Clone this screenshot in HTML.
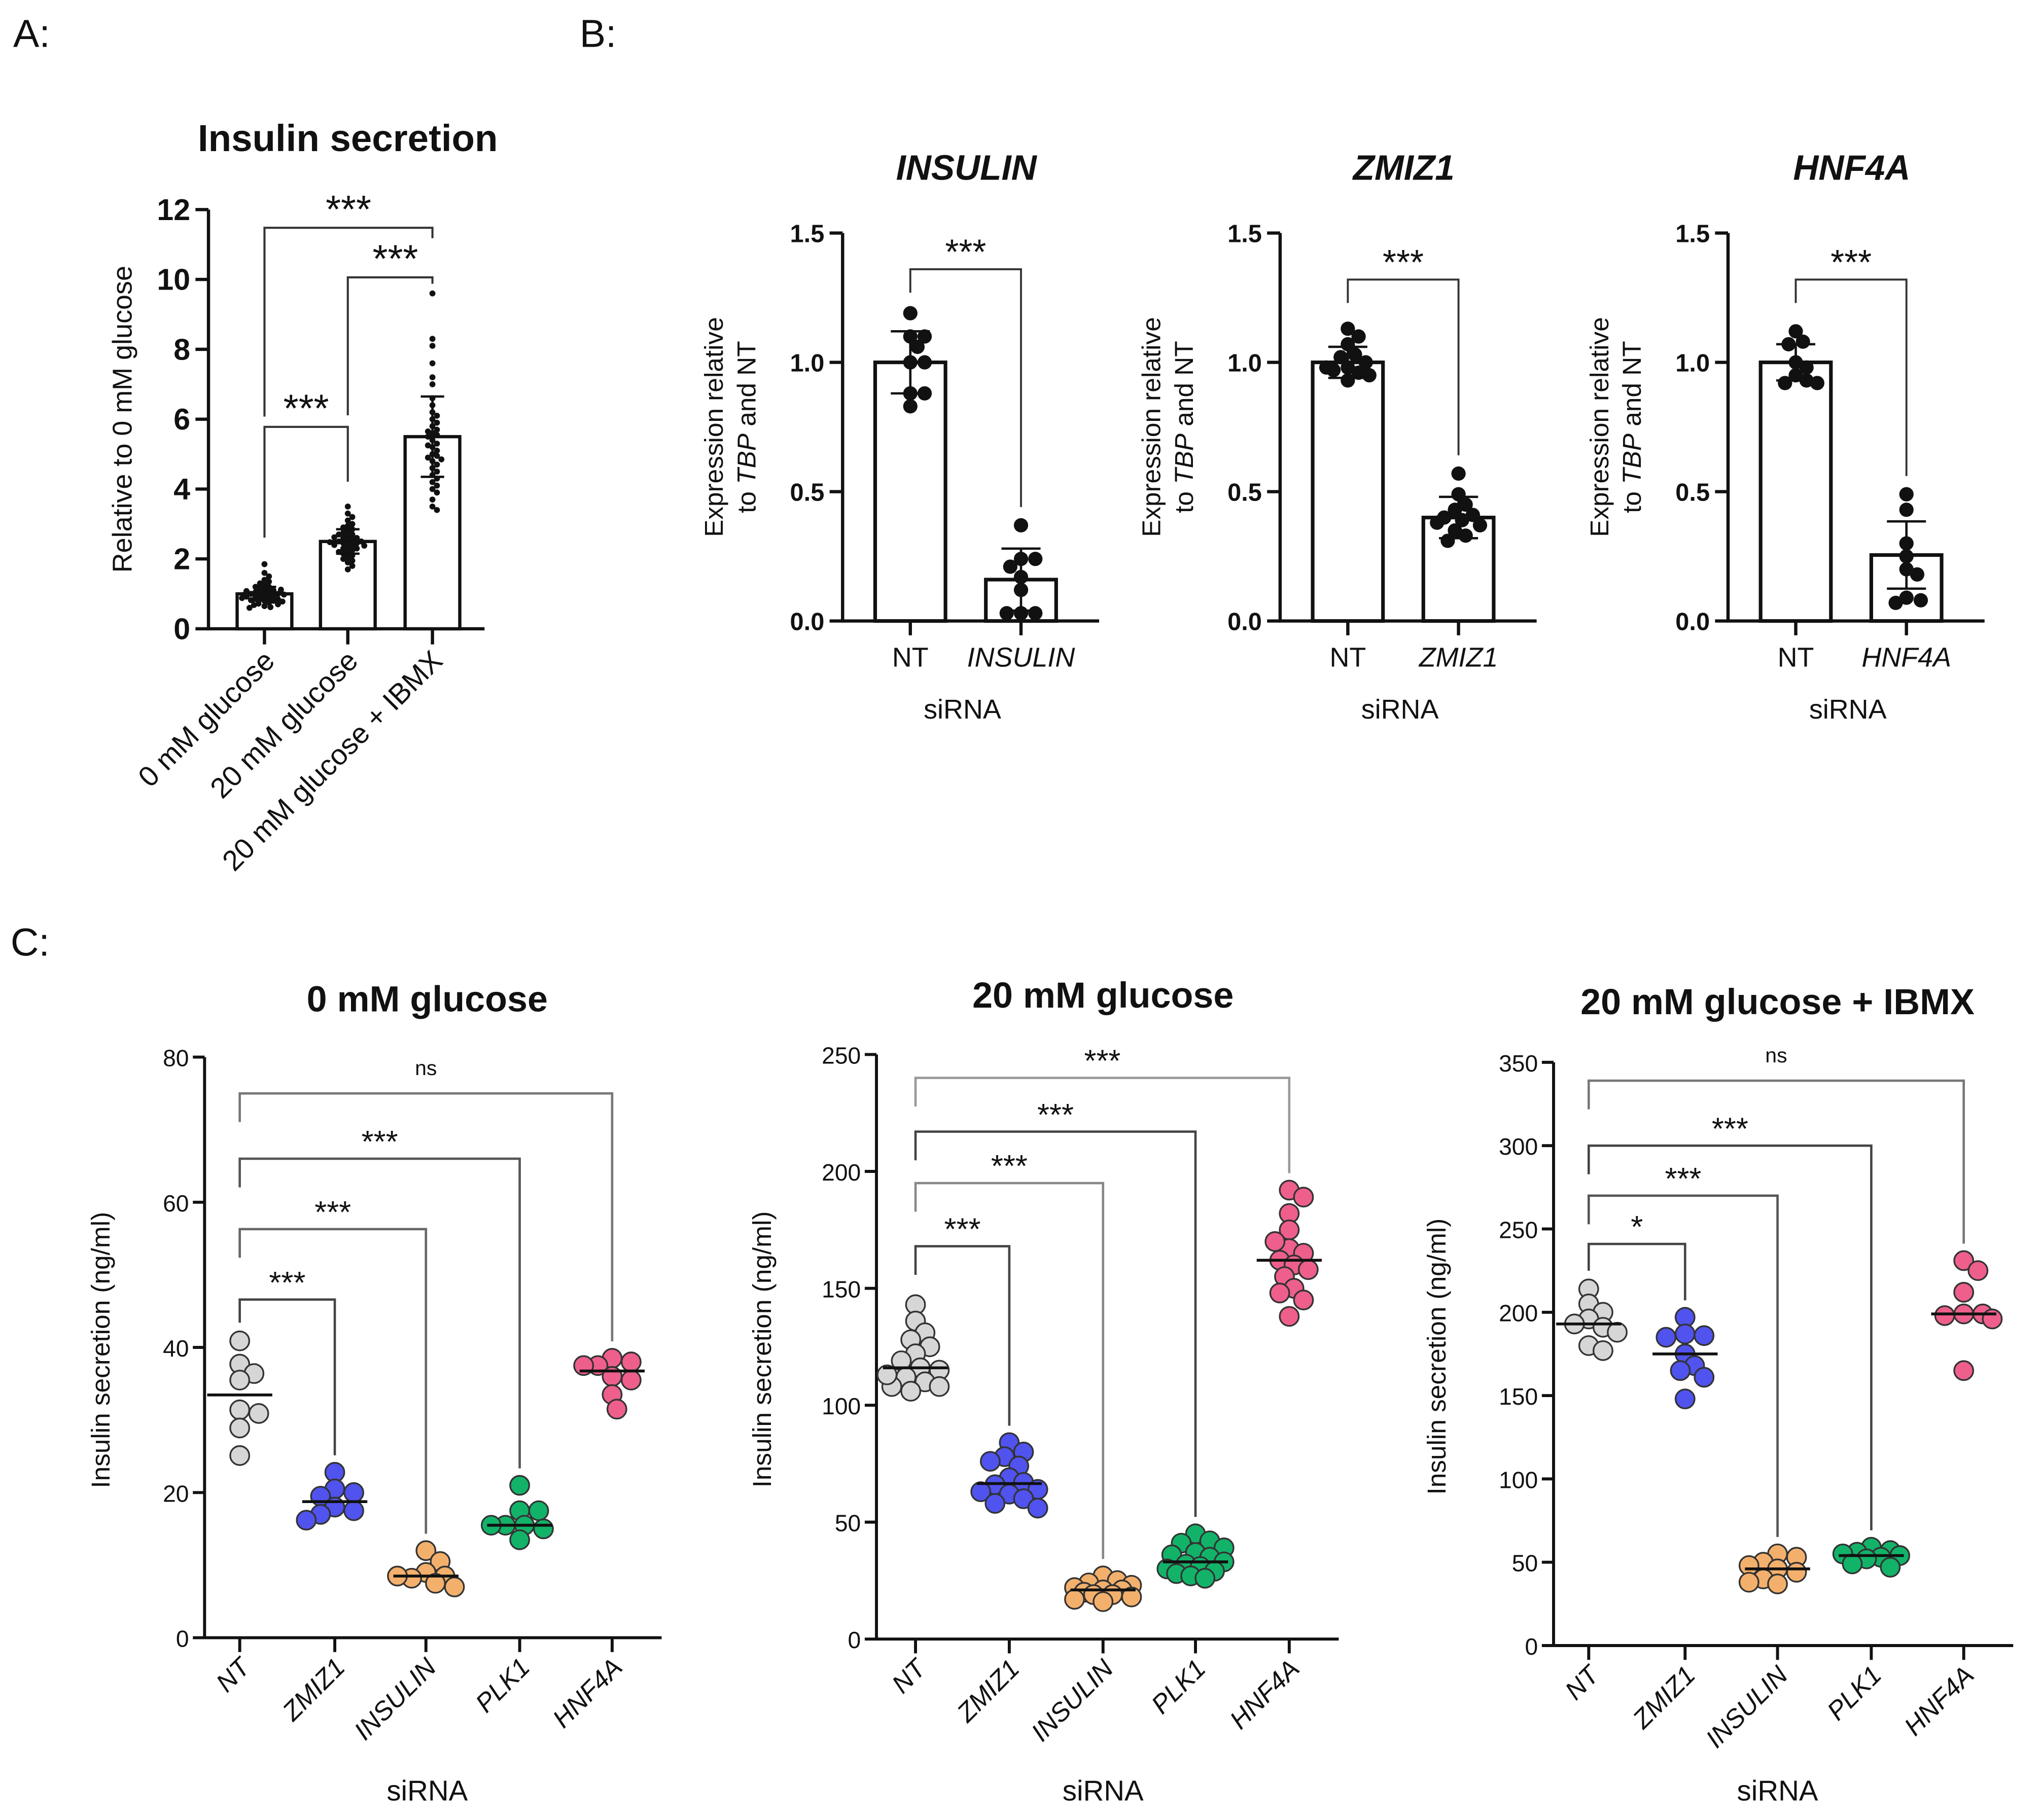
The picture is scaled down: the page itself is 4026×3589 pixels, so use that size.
<!DOCTYPE html>
<html><head><meta charset="utf-8">
<style>
html,body{margin:0;padding:0;background:#fff}
svg{display:block}
text{font-family:"Liberation Sans",Arial,sans-serif;fill:#111}
</style></head>
<body>
<svg id="fig" xmlns="http://www.w3.org/2000/svg" width="4026" height="3589" viewBox="0 0 1568 1398">
<rect width="1568" height="1398" fill="#fff"/>
<text x="10" y="36" font-size="30">A:</text>
<text x="445" y="36" font-size="30">B:</text>
<text x="8" y="734" font-size="30">C:</text>
<g id="root"></g>
</svg>
<script>
// ---------- Panel A data ----------
const aCategories = ["0 mM glucose","20 mM glucose","20 mM glucose + IBMX"];
const aMeans = [1.0, 2.5, 5.5];
const aSD = [0.2, 0.35, 1.15];
const aTicks = [0,2,4,6,8,10,12];
const aPts0 = [1.85,1.6,1.5,1.4,1.35,1.3,1.25,1.2,1.2,1.15,1.1,1.1,1.05,1.05,1.0,1.0,1.0,0.98,0.95,0.95,0.92,0.9,0.9,0.88,0.85,0.85,0.82,0.8,0.8,0.78,0.75,0.72,0.7,0.68,0.65,0.62,0.6,1.12,1.08,0.97];
const aPts1 = [3.5,3.3,3.2,3.1,3.0,2.95,2.9,2.85,2.8,2.75,2.7,2.7,2.65,2.6,2.6,2.55,2.5,2.5,2.5,2.45,2.45,2.4,2.4,2.35,2.3,2.3,2.25,2.2,2.2,2.15,2.1,2.05,2.0,1.95,1.9,1.8,1.7,2.62,2.48,2.38];
const aPts2 = [9.6,8.3,8.1,7.6,7.2,7.0,6.6,6.4,6.2,6.1,6.0,5.9,5.8,5.7,5.6,5.55,5.5,5.4,5.3,5.2,5.1,5.0,4.95,4.9,4.8,4.7,4.6,4.5,4.4,4.3,4.2,4.1,4.0,3.9,3.7,3.5,3.4,5.25,5.65,4.85];
const aBracketLevels = [5.78, 10.06, 11.48];

// ---------- Panel B data ----------
const bTitles = ["INSULIN","ZMIZ1","HNF4A"];
const bTicks = [0.0,0.5,1.0,1.5];
const bMeans = [[1.0,0.16],[1.0,0.4],[1.0,0.255]];
const bSD = [[0.12,0.12],[0.06,0.08],[0.07,0.13]];
const bPtsNT = [[1.19,1.1,1.1,1.06,1.0,1.0,0.88,0.88,0.83],[1.13,1.1,1.07,1.03,1.02,1.0,0.98,0.97,0.96,0.95,0.93,0.98],[1.12,1.08,1.07,1.0,0.98,0.95,0.93,0.92,0.92]];
const bPtsKD = [[0.37,0.24,0.24,0.21,0.17,0.12,0.03,0.03,0.03],[0.57,0.49,0.45,0.43,0.41,0.4,0.39,0.37,0.35,0.33,0.31,0.38],[0.49,0.43,0.3,0.25,0.2,0.18,0.09,0.08,0.07]];
const bBracketLevels = [1.36, 1.32, 1.32];

// ---------- Panel C data ----------
const cCategories = ["NT","ZMIZ1","INSULIN","PLK1","HNF4A"];
const cTitles = ["0 mM glucose","20 mM glucose","20 mM glucose + IBMX"];
const cTicks = [[0,20,40,60,80],[0,50,100,150,200,250],[0,50,100,150,200,250,300,350]];
const c1Pts = [[40.9,37.7,36.4,35.5,31.4,30.9,28.9,25.1],[22.8,20.5,20,19.5,18,17.5,17,16.2],[12,10.5,9,8.5,8.2,8.5,7.5,7],[21,17.5,17.5,15.5,15.5,15,15.5,13.5],[38.5,38,37.5,37.5,36,35.5,33.5,31.5]];
const c2Pts = [[143,136,131,128,125,122,119,116,115,112,110,108,106,108,113],[84,80,78,76,74,69,67,66,64,63,62,60,58,56],[27,25,24,23,22,21,21,20,19,19,18,17,16],[45,42,41,39,37,36,35,33,32,31,30,29,28,27,26],[192,189,182,175,167,165,162,160,158,155,150,148,145,138,170]];
const c3Pts = [[214,205,200,196,193,191,188,180,177],[197,187,186,185,175,168,165,161,148],[55,53,50,48,46,44,40,38,37],[59,57,56,55,54,53,52,49,47],[231,225,212,199,199,198,196,165]];
const c1Brackets = [46.6,56.3,66.0,75.0];
const c2Brackets = [168,195,217,240];
const c3Brackets = [241,270,300,339];
const c1Sig = ["***","***","***","ns"];
const c2Sig = ["***","***","***","***"];
const c3Sig = ["*","***","***","ns"];

const NS="http://www.w3.org/2000/svg";
const root=document.getElementById('root');
function mk(tag,attrs,parent){const e=document.createElementNS(NS,tag);for(const k in attrs)e.setAttribute(k,attrs[k]);(parent||root).appendChild(e);return e;}
function txt(s,attrs,parent){const e=mk('text',attrs,parent);e.textContent=s;return e;}
// compact beeswarm: offsets limited to +-maxOff, allows slight overlap
function swarm(vals,cx,yf,r,maxOff){
  const placed=[];
  const cands=[0];
  for(let o=r*0.5;o<=maxOff+0.01;o+=r*0.5){cands.push(o);cands.push(-o);}
  vals.forEach(v=>{const y=yf(v);let best=null,bestD=-1;
    for(const o of cands){
      const d=placed.length?Math.min(...placed.map(p=>Math.hypot(p[0]-(cx+o),p[1]-y))):1e9;
      if(d>=r*1.55){best=o;break;}
      if(d>bestD){bestD=d;best=o;}
    }
    placed.push([cx+best,y]);});
  return placed;
}
function median(a){const s=[...a].sort((x,y)=>x-y);const n=s.length;return n%2?s[(n-1)/2]:(s[n/2-1]+s[n/2])/2;}

// ================= Panel A =================
(function(){
  const g=mk('g',{});
  
  
  const ax=160,y0=483,y1=161,max=12;
  const ya=v=>y0-(y0-y1)*v/max;
  const xs=[203,267,332],bw=42;
  txt("Insulin secretion",{x:267,y:116,'font-size':29,'font-weight':'bold','text-anchor':'middle'},g);
  const yl=txt("Relative to 0 mM glucose",{x:0,y:0,'font-size':21,'text-anchor':'middle',transform:`translate(101,322) rotate(-90)`},g);
  
  mk('line',{x1:ax,y1:y1,x2:ax,y2:y0+1,stroke:'#111','stroke-width':2.5},g);
  mk('line',{x1:ax-1,y1:y0,x2:372,y2:y0,stroke:'#111','stroke-width':2.5},g);
  aTicks.forEach(t=>{mk('line',{x1:ax-10,y1:ya(t),x2:ax,y2:ya(t),stroke:'#111','stroke-width':2.5},g);
    const l=txt(String(t),{x:ax-14,y:ya(t)+8,'font-size':23,'font-weight':'bold','text-anchor':'end'},g);
    });
  const pts=[aPts0,aPts1,aPts2];
  aCategories.forEach((c,i)=>{
    const b=mk('rect',{x:xs[i]-bw/2,y:ya(aMeans[i]),width:bw,height:y0-ya(aMeans[i]),fill:'#fff',stroke:'#111','stroke-width':2.5},g);
    
    swarm(pts[i],xs[i],ya,2.3,18).forEach(p=>mk('circle',{cx:p[0],cy:p[1],r:2.3,fill:'#111'},g));
    const e1=ya(aMeans[i]+aSD[i]),e2=ya(aMeans[i]-aSD[i]);
    mk('line',{x1:xs[i],y1:e1,x2:xs[i],y2:e2,stroke:'#111','stroke-width':1.8},g);
    mk('line',{x1:xs[i]-9,y1:e1,x2:xs[i]+9,y2:e1,stroke:'#111','stroke-width':1.8},g);
    mk('line',{x1:xs[i]-9,y1:e2,x2:xs[i]+9,y2:e2,stroke:'#111','stroke-width':1.8},g);
    mk('line',{x1:xs[i],y1:y0,x2:xs[i],y2:y0+12,stroke:'#111','stroke-width':2.5},g);
    const l=txt(c,{x:0,y:0,'font-size':22,'text-anchor':'end',transform:`translate(${xs[i]+9},${y0+26}) rotate(-45)`},g);
    
  });
  const pairs=[[0,1],[1,2],[0,2]];
  const legs=[[413,370],[319,218],[320,183]];
  pairs.forEach((p,i)=>{const yy=ya(aBracketLevels[i]);
    mk('polyline',{points:`${xs[p[0]]},${legs[i][0]} ${xs[p[0]]},${yy} ${xs[p[1]]},${yy} ${xs[p[1]]},${legs[i][1]}`,fill:'none',stroke:'#333','stroke-width':1.6},g);
    const s=txt("***",{x:(xs[p[0]]+xs[p[1]])/2+ (i==1?4:0),y:yy-4,'font-size':30,'text-anchor':'middle'},g);
    });
})();

// ================= Panel B =================
(function(){
  const axs=[647,983,1327];
  bTitles.forEach((t,k)=>{
    const g=mk('g',{});
    
    
    const ax=axs[k],y0=477,y1=179;
    const yb=v=>y0-(y0-y1)*v/1.5;
    const xs=[ax+52,ax+137],bw=54;
    txt(t,{x:ax+95,y:138,'font-size':27,'font-weight':'bold','font-style':'italic','text-anchor':'middle'},g);
    const ylab=mk('text',{x:0,y:0,'font-size':20,'text-anchor':'middle','font-family':'"Liberation Sans Narrow","Liberation Sans",sans-serif',transform:`translate(${ax-92},328) rotate(-90)`},g);
    
    const t1=mk('tspan',{x:0,dy:0},ylab);t1.textContent="Expression relative";
    const t2=mk('tspan',{x:0,dy:25},ylab);t2.textContent="to ";
    const t3=mk('tspan',{'font-style':'italic'},ylab);t3.textContent="TBP";
    const t4=mk('tspan',{},ylab);t4.textContent=" and NT";
    mk('line',{x1:ax,y1:y1,x2:ax,y2:y0+1,stroke:'#111','stroke-width':2.5},g);
    mk('line',{x1:ax-1,y1:y0,x2:ax+197,y2:y0,stroke:'#111','stroke-width':2.5},g);
    bTicks.forEach(v=>{mk('line',{x1:ax-10,y1:yb(v),x2:ax,y2:yb(v),stroke:'#111','stroke-width':2.5},g);
      const l=txt(v.toFixed(1),{x:ax-14,y:yb(v)+7,'font-size':19,'font-weight':'bold','text-anchor':'end'},g);
      });
    const groups=[bPtsNT[k],bPtsKD[k]];
    [0,1].forEach(i=>{
      const m=bMeans[k][i],sd=bSD[k][i];
      const b=mk('rect',{x:xs[i]-bw/2,y:yb(m),width:bw,height:y0-yb(m),fill:'#fff',stroke:'#111','stroke-width':2.8},g);
      
      swarm(groups[i],xs[i],yb,5.5,18).forEach(p=>mk('circle',{cx:p[0],cy:p[1],r:5.5,fill:'#111'},g));
      const e1=yb(m+sd),e2=yb(Math.max(m-sd,0.01));
      mk('line',{x1:xs[i],y1:e1,x2:xs[i],y2:e2,stroke:'#111','stroke-width':1.8},g);
      mk('line',{x1:xs[i]-15,y1:e1,x2:xs[i]+15,y2:e1,stroke:'#111','stroke-width':1.8},g);
      mk('line',{x1:xs[i]-15,y1:e2,x2:xs[i]+15,y2:e2,stroke:'#111','stroke-width':1.8},g);
      mk('line',{x1:xs[i],y1:y0,x2:xs[i],y2:y0+11,stroke:'#111','stroke-width':2.5},g);
      const l=txt(i?t:"NT",{x:xs[i],y:512,'font-size':21,'text-anchor':'middle','font-style':i?'italic':'normal'},g);
      
    });
    txt("siRNA",{x:ax+92,y:552,'font-size':21,'text-anchor':'middle'},g);
    const yy=yb(bBracketLevels[k]);
    const topR=yb(Math.max(...groups[1]))-14, topL=yb(Math.max(...groups[0]))-14;
    mk('polyline',{points:`${xs[0]},${Math.min(yy+18,topL)} ${xs[0]},${yy} ${xs[1]},${yy} ${xs[1]},${topR}`,fill:'none',stroke:'#333','stroke-width':1.5},g);
    txt("***",{x:(xs[0]+xs[1])/2,y:yy-4,'font-size':27,'text-anchor':'middle'},g);
  });
})();

// ================= Panel C =================
(function(){
  const colors=['#d6d6d6','#5053ee','#f3b06c','#12b369','#ee5f8c'];
  const cfg=[
    {ax:157,y0:1258,y1:812,max:80,xs:[184,257,327,399,470],pts:c1Pts,br:c1Brackets,sig:c1Sig,ticks:cTicks[0],tx:328,ty:777,ylx:84},
    {ax:673,y0:1259,y1:810,max:250,xs:[703,775,847,918,990],pts:c2Pts,br:c2Brackets,sig:c2Sig,ticks:cTicks[1],tx:847,ty:774,ylx:592},
    {ax:1193,y0:1264,y1:816,max:350,xs:[1220,1294,1365,1437,1508],pts:c3Pts,br:c3Brackets,sig:c3Sig,ticks:cTicks[2],tx:1365,ty:779,ylx:1110}];
  const brColors=[['#444','#666','#555','#777'],['#444','#888','#444','#999'],['#444','#555','#444','#777']];
  cfg.forEach((c,k)=>{
    const g=mk('g',{});
    
    
    const yc=v=>c.y0-(c.y0-c.y1)*v/c.max;
    txt(cTitles[k],{x:c.tx,y:c.ty,'font-size':28,'font-weight':'bold','text-anchor':'middle'},g);
    txt("Insulin secretion (ng/ml)",{x:0,y:0,'font-size':20,'text-anchor':'middle',transform:`translate(${c.ylx},${(c.y0+c.y1)/2+2}) rotate(-90)`},g);
    mk('line',{x1:c.ax,y1:c.y1,x2:c.ax,y2:c.y0+1,stroke:'#111','stroke-width':2.3},g);
    mk('line',{x1:c.ax-1,y1:c.y0,x2:c.xs[4]+38,y2:c.y0,stroke:'#111','stroke-width':2.3},g);
    c.ticks.forEach(v=>{mk('line',{x1:c.ax-9,y1:yc(v),x2:c.ax,y2:yc(v),stroke:'#111','stroke-width':2.3},g);
      txt(String(v),{x:c.ax-12,y:yc(v)+7,'font-size':18,'text-anchor':'end'},g);});
    cCategories.forEach((cat,i)=>{
      mk('line',{x1:c.xs[i],y1:c.y0,x2:c.xs[i],y2:c.y0+11,stroke:'#111','stroke-width':2.3},g);
      txt(cat,{x:0,y:0,'font-size':20,'font-style':'italic','text-anchor':'end',transform:`translate(${c.xs[i]+9},${c.y0+24}) rotate(-45)`},g);
      const grp=mk('g',{},g);
      
      
      swarm(c.pts[i],c.xs[i],yc,7.3,24).forEach(p=>mk('circle',{cx:p[0],cy:p[1],r:7.3,fill:colors[i],stroke:'#333','stroke-width':1.3},grp));
      const md=yc(median(c.pts[i]));
      mk('line',{x1:c.xs[i]-25,y1:md,x2:c.xs[i]+25,y2:md,stroke:'#111','stroke-width':2.2},g);
    });
    txt("siRNA",{x:c.tx,y:1383,'font-size':22,'text-anchor':'middle'},g);
    const ntTop=yc(Math.max(...c.pts[0]))-14;
    c.br.forEach((lv,j)=>{
      const yy=yc(lv),xi=c.xs[j+1];
      const rEnd=yc(Math.max(...c.pts[j+1]))-13;
      mk('polyline',{points:`${c.xs[0]},${Math.min(yy+22,ntTop)} ${c.xs[0]},${yy} ${xi},${yy} ${xi},${rEnd}`,fill:'none',stroke:brColors[k][j],'stroke-width':1.8},g);
      const s=c.sig[j];
      const lab=txt(s,{x:(c.xs[0]+xi)/2,y:s==='ns'?yy-14:yy-5,'font-size':s==='ns'?16:24,'text-anchor':'middle'},g);
      
    });
  });
})();
</script>
</body></html>
